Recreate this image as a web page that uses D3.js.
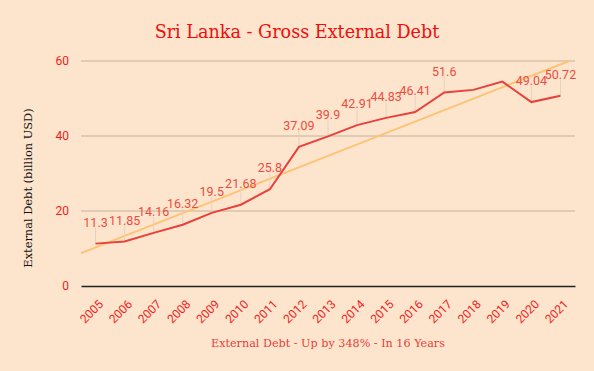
<!DOCTYPE html>
<html>
<head>
<meta charset="utf-8">
<script src="https://cdn.jsdelivr.net/npm/d3@7"></script>
<style>
  body { margin: 0; background: #fde5cd; }
  svg { display: block; }
</style>
</head>
<body>
<svg id="chart" width="594" height="371"></svg>
<script>
// data
const years = ["2005", "2006", "2007", "2008", "2009", "2010", "2011", "2012", "2013",
               "2014", "2015", "2016", "2017", "2018", "2019", "2020", "2021"];
const debt = [11.3, 11.85, 14.16, 16.32, 19.5, 21.68, 25.8, 37.09, 39.9,
              42.91, 44.83, 46.41, 51.6, 52.3, 54.5, 49.04, 50.72];
const labelled = ["2005", "2006", "2007", "2008", "2009", "2010", "2011", "2012", "2013",
                  "2014", "2015", "2016", "2017", "2020", "2021"];
const yTicks = [0, 20, 40, 60];

const svg = d3.select("#chart"),
      margin = {top: 61, right: 19, bottom: 85, left: 81},
      width = 594 - margin.left - margin.right,
      height = 371 - margin.top - margin.bottom;

svg.append("rect").attr("width", 594).attr("height", 371).attr("fill", "#fde5cd");

const x = d3.scalePoint().domain(years).range([0, width]).padding(0.5);
const y = d3.scaleLinear().domain([0, 60]).range([height, 0]);

const g = svg.append("g").attr("transform", "translate(" + margin.left + "," + margin.top + ")");

// gridlines
g.selectAll(".grid")
  .data(yTicks.slice(1))
  .enter().append("line")
  .attr("x1", 0).attr("x2", width)
  .attr("y1", d => y(d)).attr("y2", d => y(d))
  .attr("stroke", "#c2b09e").attr("stroke-width", 1);

// y axis labels
const yAxis = g.append("g").call(d3.axisLeft(y).tickValues(yTicks).tickSize(0).tickPadding(12));
yAxis.select(".domain").remove();
yAxis.selectAll("text")
  .attr("fill", "#f21c1c")
  .style("font-family", "Roboto, sans-serif")
  .style("font-size", "12px");

// baseline + x axis
const xAxis = g.append("g").attr("transform", "translate(0," + height + ")")
  .call(d3.axisBottom(x).tickSize(0));
xAxis.select(".domain").attr("stroke", "#222").attr("stroke-width", 1.5);
xAxis.selectAll("text")
  .attr("fill", "#f21c1c")
  .style("font-family", "Roboto, sans-serif")
  .style("font-size", "12px")
  .attr("text-anchor", "end")
  .attr("x", 0).attr("y", 0).attr("dy", null)
  .attr("transform", "translate(8,19) rotate(-45)");

// trend line (least squares through the series)
const xi = years.map((d, i) => i);
const mx = d3.mean(xi), my = d3.mean(debt);
const slope = d3.sum(xi, i => (i - mx) * (debt[i] - my)) / d3.sum(xi, i => (i - mx) * (i - mx));
const icpt = my - slope * mx;
const step = x.step();
const idx = v => (v - x(years[0])) / step;
const xEnd = Math.min(width, x(years[0]) + ((60 - icpt) / slope) * step);

g.append("line")
  .attr("x1", 0).attr("y1", y(icpt + slope * idx(0)))
  .attr("x2", xEnd).attr("y2", y(icpt + slope * idx(xEnd)))
  .attr("stroke", "#fdc374").attr("stroke-width", 2);

// data label leaders
const pts = years.map((d, i) => ({year: d, v: debt[i]}));
const lab = pts.filter(p => labelled.includes(p.year));

g.selectAll(".leader")
  .data(lab)
  .enter().append("line")
  .attr("x1", d => x(d.year)).attr("x2", d => x(d.year))
  .attr("y1", d => y(d.v)).attr("y2", d => y(d.v) - 16)
  .attr("stroke", "#e3d2c2").attr("stroke-width", 1);

// main line
g.append("path")
  .datum(pts)
  .attr("fill", "none")
  .attr("stroke", "#e8403a")
  .attr("stroke-width", 2)
  .attr("d", d3.line().x(d => x(d.year)).y(d => y(d.v)));

// data labels
g.selectAll(".lbl")
  .data(lab)
  .enter().append("text")
  .attr("x", d => x(d.year))
  .attr("y", d => y(d.v) - 17)
  .attr("text-anchor", "middle")
  .attr("fill", "#ee4b40")
  .style("font-family", "Roboto, sans-serif")
  .style("font-size", "12.5px")
  .text(d => d.v);

// titles
svg.append("text")
  .attr("x", 297).attr("y", 38)
  .attr("text-anchor", "middle")
  .attr("fill", "#f20c0c")
  .style("font-family", "'DejaVu Serif', serif")
  .style("font-size", "17.6px")
  .text("Sri Lanka - Gross External Debt");

svg.append("text")
  .attr("transform", "translate(32,188) rotate(-90)")
  .attr("text-anchor", "middle")
  .attr("fill", "#111")
  .style("font-family", "'DejaVu Serif', serif")
  .style("font-size", "11.4px")
  .text("External Debt (billion USD)");

svg.append("text")
  .attr("x", 328).attr("y", 347)
  .attr("text-anchor", "middle")
  .attr("fill", "#e8403a")
  .style("font-family", "'DejaVu Serif', serif")
  .style("font-size", "11.2px")
  .text("External Debt - Up by 348% - In 16 Years");
</script>
</body>
</html>
